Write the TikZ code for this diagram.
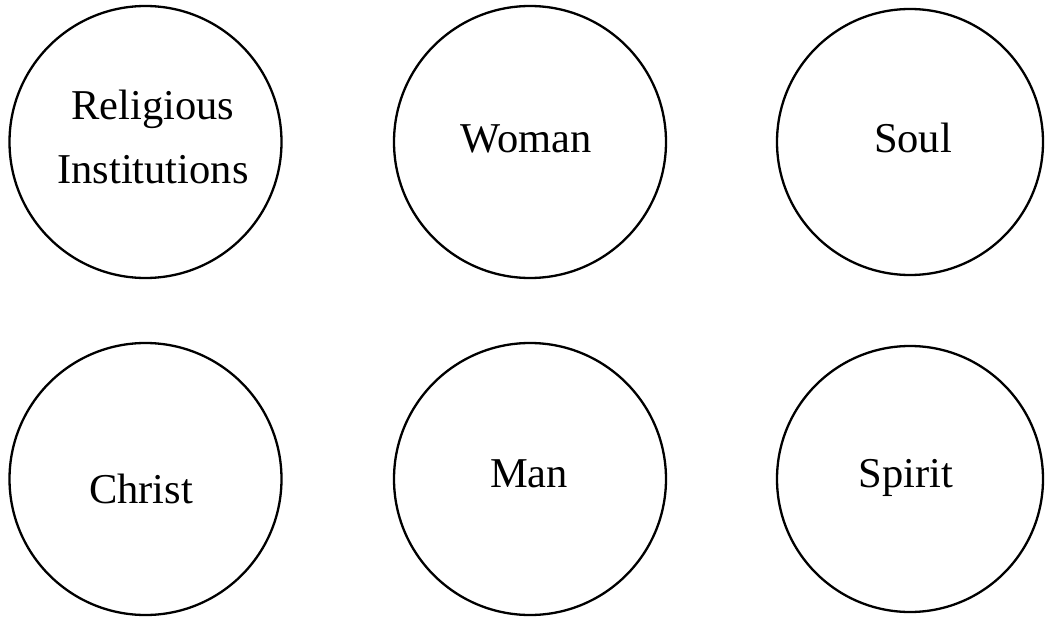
\documentclass[tikz,border=0pt]{standalone}
\usepackage{fontspec}
\setmainfont{Liberation Serif}
\tikzset{
  ring/.style={draw, circle, line width=2.3pt, minimum size=272pt, inner sep=0pt},
  word/.style={anchor=base, align=center, font=\fontsize{42.5}{63}\selectfont}
}
\begin{document}
\begin{tikzpicture}[x=1pt,y=-1pt]
            \useasboundingbox (0,0) rectangle (1045,618);
            % define centres
            \coordinate (RI)  at (145.5, 142);
            \coordinate (WO)  at (530, 142);
            \coordinate (SO)  at (910, 142);
            \coordinate (CH)  at (145.5, 479);
            \coordinate (MA)  at (530, 479);
            \coordinate (SP)  at (910, 479);
            % circles
            \node[ring] (ringRI) at (RI) {};
            \node[ring] (ringWO) at (WO) {};
            \node[ring, minimum size=266pt] (ringSO) at (SO) {};
            \node[ring] (ringCH) at (CH) {};
            \node[ring] (ringMA) at (MA) {};
            \node[ring, minimum size=266pt] (ringSP) at (SP) {};
            % labels
            \node[word] (textRIa) at (153, 120) {Religious};
            \node[word] (textRIb) at (153, 183) {Institutions};
            \node[word] (textWO) at (526, 152) {Woman};
            \node[word] (textSO) at (913, 152) {Soul};
            \node[word] (textCH) at (141, 503) {Christ};
            \node[word] (textMA) at (529, 487) {Man};
            \node[word] (textSP) at (906, 487) {Spirit};
        \end{tikzpicture}
\end{document}
